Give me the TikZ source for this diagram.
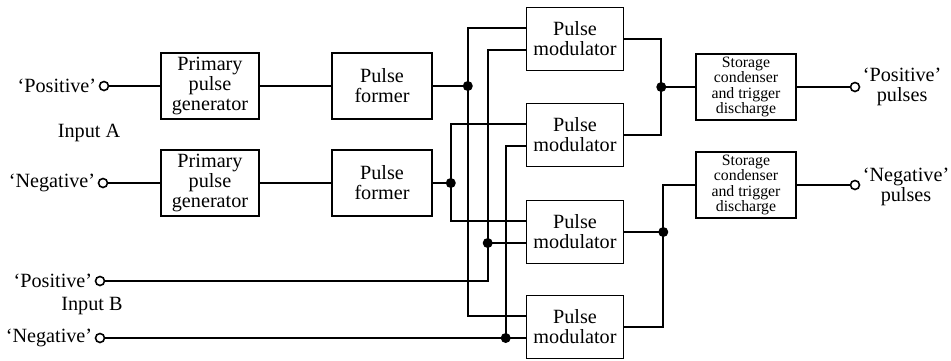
\documentclass[tikz,border=0pt]{standalone}
\usepackage{fontspec}
\setmainfont{Liberation Serif}
\usetikzlibrary{calc}

\begin{document}
\begin{tikzpicture}[x=0.02cm,y=-0.02cm,line width=0.9pt,
    blk/.style={draw,align=center,inner sep=0pt,font=\fontsize{11.5}{11.3}\selectfont},
    term/.style={draw,circle,inner sep=0pt,minimum size=0.18cm},
    lbl/.style={align=center,inner sep=1pt,font=\fontsize{11.5}{11.3}\selectfont},
    dot/.style={fill,circle,inner sep=0pt,minimum size=0.2cm}]
  \useasboundingbox (0,0) rectangle (951,360);

  % inputs
  \node[term] (tAp) at (104,86) {};
  \node[term] (tAn) at (103,183) {};
  \node[term] (tBp) at (100,281) {};
  \node[term] (tBn) at (100,338) {};
  \node[lbl,anchor=east] (lAp) at (tAp.west) {`Positive'};
  \node[lbl,anchor=east] (lAn) at (tAn.west) {`Negative'};
  \node[lbl,anchor=east] (lBp) at (tBp.west) {`Positive'};
  \node[lbl,anchor=east] (lBn) at (tBn.west) {`Negative'};
  \node[lbl] (inA) at (89,133) {Input A};
  \node[lbl] (inB) at (92,306) {Input B};

  % blocks
  \foreach \n/\y in {1/86, 2/183} {
    \node[blk,minimum width=1.96cm,minimum height=1.32cm] (gen\n) at (210,\y) {Primary\\pulse\\generator};
    \node[blk,minimum width=2cm,minimum height=1.32cm] (form\n) at (382,\y) {Pulse\\former};
  }
  \foreach \n/\y in {1/39, 2/135, 3/232, 4/327} {
    \node[blk,minimum width=1.94cm,minimum height=1.26cm] (mod\n) at (575,\y) {Pulse\\modulator};
    \coordinate (m\n a) at ($(mod\n.west)+(0,-11)$);
    \coordinate (m\n b) at ($(mod\n.west)+(0,11)$);
  }
  \foreach \n/\y in {1/87, 2/185} {
    \node[blk,minimum width=2cm,minimum height=1.32cm,font=\fontsize{9}{8.7}\selectfont]
      (store\n) at (746,\y) {Storage\\condenser\\and trigger\\discharge};
  }

  % outputs
  \node[term] (tOp) at (855,87) {};
  \node[term] (tOn) at (855,185) {};
  \node[lbl,anchor=west] (lOp) at (tOp.east) {`Positive'\\pulses};
  \node[lbl,anchor=west] (lOn) at ([yshift=-1pt]tOn.east) {`Negative'\\pulses};

  % junctions
  \coordinate (j1) at ($(form1.east)+(35,0)$);
  \coordinate (j2) at ($(form2.east)+(18,0)$);
  \coordinate (j3) at ($(m3b)+(-38,0)$);
  \coordinate (j4) at ($(m4b)+(-20,0)$);
  \coordinate (k1) at ($(mod1.east)!0.5!(mod2.east)+(37,0)$);
  \coordinate (k2) at ($(mod3.east)+(39,0)$);

  \draw (tAp) -- (gen1);
  \draw (tAn) -- (gen2);
  \draw (gen1) -- (form1);
  \draw (gen2) -- (form2);
  \draw (form1) -- (j1);
  \draw (j1) |- (m1a);
  \draw (j1) |- (m4a);
  \draw (form2) -- (j2);
  \draw (j2) |- (m2a);
  \draw (j2) |- (m3a);
  \draw (tBp) -| (j3);
  \draw (j3) |- (m1b);
  \draw (j3) -- (m3b);
  \draw (tBn) -- (m4b);
  \draw (j4) |- (m2b);
  \draw (mod1.east) -| (k1) |- (mod2.east);
  \draw (k1) -- (store1);
  \draw (mod3) -- (k2);
  \draw (mod4.east) -| (k2) |- (store2.west);
  \draw (store1) -- (tOp);
  \draw (store2) -- (tOn);
  \foreach \j in {j1,j2,j3,j4,k1,k2}
    \node[dot] at (\j) {};
\end{tikzpicture}
\end{document}
